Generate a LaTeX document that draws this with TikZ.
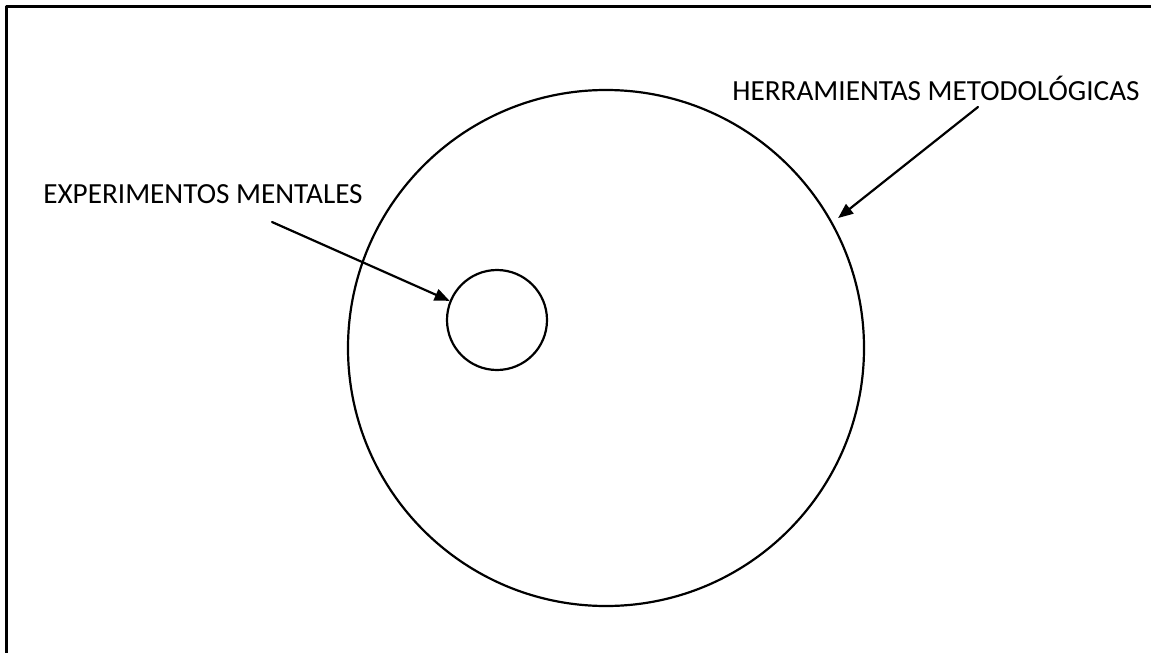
\documentclass[tikz,border=0pt]{standalone}
\usepackage{fontspec}
\setmainfont{Carlito}
\usetikzlibrary{arrows.meta}
\tikzset{
    every picture/.style={line cap=round,line join=round},
    ring/.style={draw=black,circle,line width=1.1pt,inner sep=0pt},
    labeltext/.style={font=\fontsize{14.6}{17}\selectfont,inner sep=0pt,text=black},
    pointer/.style={-{Triangle[length=7.5pt,width=6pt]},draw=black,line width=1.1pt}
}
\begin{document}
\begin{tikzpicture}[x=0.5pt,y=-0.5pt]
  \useasboundingbox (0,0) rectangle (1151,653);
  % frame, only its top and left edges are in view
  \coordinate (frameTR) at (1151,6);
  \coordinate (frameTL) at (6,6);
  \coordinate (frameBL) at (6,653);
  \draw[line width=1.5pt,line cap=butt] (frameTR) -- (frameTL) -- (frameBL);
  \node[ring,minimum size=258pt] (tools) at (606,348) {};
  \node[ring,minimum size=50pt] (thought) at (497,320) {};
  \node[labeltext] (toolsLabel) at (936,88) {HERRAMIENTAS METODOLÓGICAS};
  \node[labeltext] (thoughtLabel) at (203,194) {EXPERIMENTOS MENTALES};
  \coordinate (toolsTail) at (978,107);
  \coordinate (thoughtTail) at (272,222);
  \draw[pointer,shorten >=3.5pt] (toolsTail) -- (tools.29.4);
  \draw[pointer] (thoughtTail) -- (thought.158);
\end{tikzpicture}
\end{document}
